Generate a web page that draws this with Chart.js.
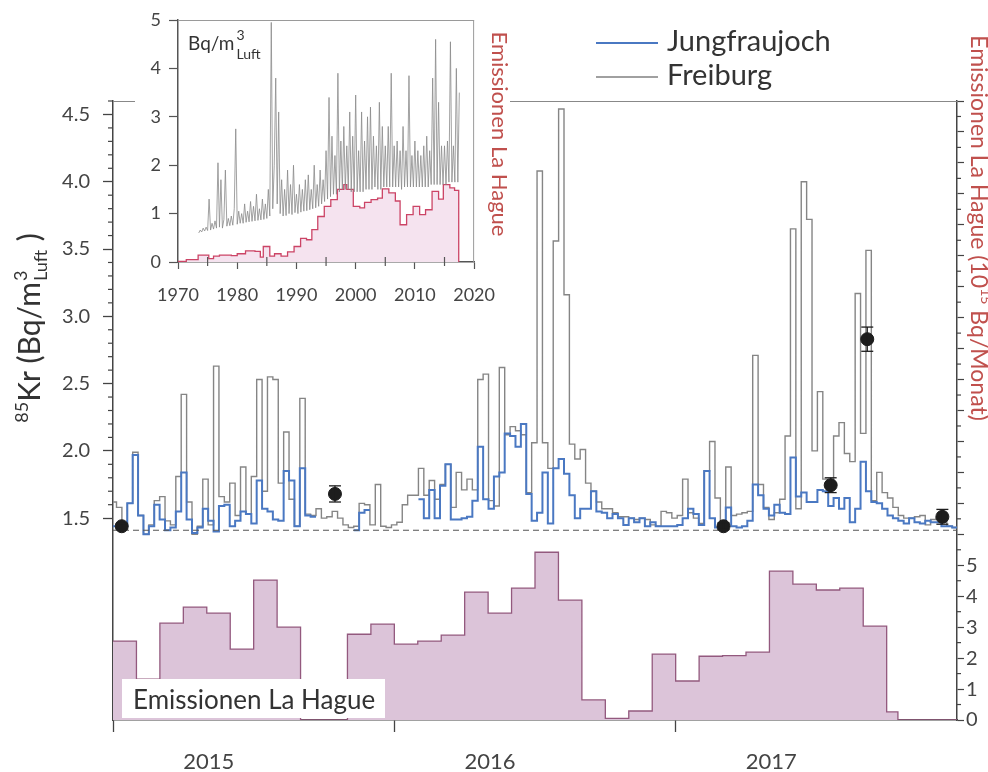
<!DOCTYPE html>
<html lang="de">
<head>
<meta charset="UTF-8">
<title>85Kr Jungfraujoch / Freiburg</title>
<script src="https://cdn.jsdelivr.net/npm/chart.js"></script>
<style>
  body { margin: 0; background: #fff; }
  #wrap { position: relative; width: 988px; height: 772px; overflow: hidden; }
  #mainChart { position: absolute; left: 0; top: 0; }
  #insetChart { position: absolute; left: 135px; top: 0; background: #fff; }
</style>
</head>
<body>
<div id="wrap">
  <canvas id="mainChart" width="988" height="772"></canvas>
  <canvas id="insetChart" width="375" height="305"></canvas>
</div>
<script>
// ---- main panel: weekly 85Kr (Bq/m3 Luft), first week starts just before 1 Jan 2015 ----
const weekOffset = -0.35;
const weeksPerYear = 52.18;

const jungfraujoch = [
  1.44, 1.44, 1.44, 1.61, 1.97, 1.52, 1.38, 1.44, 1.60, 1.49,
  1.41, 1.43, 1.55, 1.84, 1.49, 1.39, 1.43, 1.57, 1.48, 1.40,
  1.59, 1.60, 1.44, 1.48, 1.55, 1.53, 1.46, 1.78, 1.57, 1.55,
  1.49, 1.48, 1.85, 1.78, 1.44, 1.87, 1.52, 1.51, null, null,
  null, null, null, null, null, 1.41, 1.54, 1.56, null, null,
  null, null, null, null, null, null, null, 1.64, 1.50, 1.71,
  1.50, 1.74, 1.90, 1.49, 1.49, 1.50, 1.51, 1.63, 2.03, 1.64,
  1.57, 1.81, 1.84, 2.13, 2.11, 2.03, 2.20, 1.68, 1.48, 1.54,
  1.84, 1.46, 1.87, 1.94, 1.83, 1.67, 1.50, 1.57, 1.57, 1.70,
  1.55, 1.54, 1.50, 1.53, 1.50, 1.45, 1.50, 1.47, 1.50, 1.44,
  1.47, 1.44, 1.44, 1.44, 1.44, 1.45, 1.50, 1.57, 1.53, 1.45,
  1.85, 1.50, 1.43, 1.44, 1.58, 1.44, 1.43, 1.44, 1.48, 1.75,
  1.67, 1.57, 1.52, 1.60, 1.54, 1.53, 1.95, 1.66, 1.69, 1.62,
  1.62, 1.71, 1.70, 1.59, 1.65, 1.57, 1.65, 1.47, 1.57, 1.92,
  1.70, 1.62, 1.61, 1.57, 1.52, 1.50, 1.48, 1.46, 1.50, 1.47,
  1.46, 1.48, 1.47, 1.47, 1.44, 1.44, 1.43
];

const freiburg = [
  1.62, 1.58, 1.44, 1.61, 1.99, 1.52, 1.38, 1.45, 1.63, 1.66,
  1.48, 1.45, 1.81, 2.42, 1.62, 1.38, 1.44, 1.79, 1.45, 2.63,
  1.66, 1.62, 1.76, 1.52, 1.88, 1.53, 1.81, 2.53, 1.70, 2.55,
  2.53, 1.76, 2.14, 1.64, 1.44, 2.39, 1.53, 1.52, 1.57, 1.50,
  1.51, 1.55, 1.50, 1.45, 1.43, 1.44, 1.61, 1.60, 1.45, 1.75,
  1.44, 1.43, 1.45, 1.47, 1.60, 1.67, 1.67, 1.87, 1.67, 1.78,
  1.64, 1.75, 1.90, 1.58, 1.84, 1.71, 1.79, 1.71, 2.53, 2.57,
  1.63, 1.59, 2.62, 2.12, 2.18, 2.15, 2.12, 1.69, 2.06, 4.08,
  2.06, 1.87, 3.56, 4.54, 3.16, 2.05, 1.94, 2.01, 1.76, 1.70,
  1.62, 1.57, 1.57, 1.54, 1.51, 1.51, 1.50, 1.49, 1.50, 1.49,
  1.45, 1.44, 1.55, 1.54, 1.50, 1.52, 1.79, 1.54, 1.50, 1.46,
  1.85, 2.07, 1.65, 1.48, 1.88, 1.52, 1.53, 1.54, 1.55, 2.71,
  1.75, 1.58, 1.49, 1.54, 1.64, 2.11, 3.65, 1.57, 4.00, 3.72,
  2.00, 2.44, 1.79, 1.79, 2.11, 2.21, 1.98, 1.92, 3.17, 2.13,
  3.49, 1.63, 1.84, 1.69, 1.65, 1.58, 1.52, 1.50, 1.50, 1.51,
  1.52, 1.45, 1.49, 1.50, 1.48, 1.44, 1.43
];

// La Hague emissions, 10^15 Bq per month, Jan 2015 onwards (last month only half)
const emissionMonths = [
  2.55, 1.32, 3.13, 3.65, 3.45, 2.29, 4.52, 3.00, 0, 0, 2.77, 3.10,
  2.45, 2.55, 2.74, 4.13, 3.45, 4.26, 5.42, 3.87, 0.65, 0.05, 0.29, 2.13,
  1.26, 2.06, 2.08, 2.19, 4.81, 4.39, 4.20, 4.26, 3.03, 0.26
];
const emissionEnd = 2017.79;

// single samples with error bars
const sampleX = [2015.031, 2015.789, 2017.170, 2017.551, 2017.681, 2017.948];
const sampleY = [1.44, 1.68, 1.44, 1.745, 2.83, 1.51];
const sampleErr = [0.02, 0.06, 0.025, 0.055, 0.09, 0.055];

const baseline = 1.41;

const yearTicks = [2015, 2016, 2017];
const yearLabelPos = [2015.34, 2016.34, 2017.34];
const yearLabels = ['2015', '2016', '2017'];
const krTicks = [1.5, 2.0, 2.5, 3.0, 3.5, 4.0, 4.5];
const emisTickLabels = [0, 1, 2, 3, 4, 5];

// ---- inset: long record 1970-2020 ----
const insetYears = [1970, 1980, 1990, 2000, 2010, 2020];
const insetTicks = [0, 1, 2, 3, 4, 5];
const insetEmisStart = [1970, 1971.4, 1973.4, 1975.2, 1976, 1977, 1979, 1980, 1981.4, 1983, 1983.9,
  1984.4, 1985.5, 1986.3, 1987.4, 1988.5, 1989.6, 1990.7, 1991.7, 1992.6, 1993.6, 1994.7, 1995.8,
  1996.9, 1998, 1998.5, 1999.6, 2000.7, 2001.5, 2002.6, 2003.7, 2004.5, 2005.6, 2006.7, 2007.5,
  2008.6, 2009.7, 2010.8, 2011.8, 2012.9, 2014, 2014.8, 2015.9, 2016.7];
const insetEmis = [0.01, 0.05, 0.14, 0.07, 0.12, 0.14, 0.13, 0.17, 0.23, 0.22, 0.10,
  0.32, 0.12, 0.17, 0.12, 0.21, 0.32, 0.49, 0.46, 0.67, 0.94, 1.15, 1.29,
  1.50, 1.60, 1.50, 1.15, 1.12, 1.23, 1.29, 1.32, 1.51, 1.43, 1.26, 0.77,
  0.98, 1.15, 0.98, 1.08, 1.46, 1.30, 1.60, 1.53, 1.48];
const insetEmisEnd = 2017.4;

const freiburgLongStart = 1973.5;
const freiburgLongStep = 0.25;
const freiburgLong = [
  0.60, 0.66,
  0.62, 0.70, 0.64, 0.72,   0.65, 1.30, 0.66, 0.80,   0.68, 0.85, 0.70, 2.05,
  0.72, 1.70, 0.70, 0.88,   1.90, 0.74, 0.90, 0.75,   0.95, 0.76, 1.10, 2.75,
  0.78, 1.05, 0.80, 1.00,   0.80, 1.20, 0.82, 1.05,   0.83, 1.25, 0.84, 1.15,
  0.85, 1.40, 0.86, 1.10,   0.87, 1.30, 0.88, 1.20,   0.90, 1.50, 0.95, 4.95,
  1.10, 2.00, 3.80, 1.20,   3.10, 1.00, 1.70, 0.95,   1.50, 0.96, 1.90, 1.00,
  1.60, 0.98, 2.00, 1.02,   1.40, 1.00, 1.60, 1.03,   1.50, 1.05, 1.70, 1.06,
  1.80, 1.08, 1.50, 1.10,   2.00, 1.12, 1.60, 1.15,   1.90, 1.20, 1.70, 1.25,
  2.30, 1.30, 3.40, 1.35,   2.60, 1.40, 2.20, 1.40,   3.90, 1.45, 2.50, 1.50,
  2.80, 1.50, 2.40, 1.50,   3.10, 1.45, 2.60, 1.45,   3.45, 1.45, 2.30, 1.45,
  3.10, 1.45, 2.50, 1.50,   3.00, 1.50, 3.20, 1.50,   2.60, 1.55, 2.40, 1.50,
  3.30, 1.50, 2.80, 1.55,   2.40, 1.55, 2.80, 1.55,   3.90, 1.55, 2.40, 1.55,
  2.50, 1.55, 2.30, 1.50,   2.80, 1.55, 2.30, 1.55,   3.85, 1.55, 2.20, 1.55,
  2.50, 1.55, 2.30, 1.55,   2.20, 1.55, 2.40, 1.55,   2.60, 1.55, 2.30, 1.60,
  3.80, 1.60, 4.60, 1.60,   3.30, 1.60, 2.40, 1.60,   2.40, 1.60, 2.50, 1.65,
  4.55, 1.65, 2.40, 1.65,
  4.00, 1.65, 3.50
];

const FONT = 'Lato, "Open Sans", sans-serif';
Chart.defaults.font.family = FONT;
Chart.defaults.color = '#444';

// weekly values -> step points, closing each run before a gap
function stepPoints(values) {
  const pts = [];
  const xAt = i => 2015 + (i + weekOffset) / weeksPerYear;
  values.forEach((v, i) => {
    if (v === null) {
      if (i > 0 && values[i - 1] !== null) pts.push({ x: xAt(i), y: values[i - 1] });
      pts.push({ x: xAt(i), y: null });
    } else {
      pts.push({ x: xAt(i), y: v });
    }
  });
  pts.push({ x: xAt(values.length), y: values[values.length - 1] });
  return pts;
}

const emisPts = emissionMonths.map((v, m) => ({ x: 2015 + m / 12, y: v }));
emisPts.push({ x: emissionEnd, y: 0 }, { x: 2018, y: 0 });

function line(ctx, x1, y1, x2, y2) {
  ctx.beginPath(); ctx.moveTo(x1, y1); ctx.lineTo(x2, y2); ctx.stroke();
}

const errorBars = {
  id: 'errorBars',
  afterDatasetsDraw(chart) {
    const { ctx, scales: { x, y } } = chart;
    ctx.save();
    ctx.strokeStyle = '#1d1d1d';
    ctx.lineWidth = 1.3;
    sampleX.forEach((sx, i) => {
      const px = x.getPixelForValue(sx);
      const top = y.getPixelForValue(sampleY[i] + sampleErr[i]);
      const bot = y.getPixelForValue(sampleY[i] - sampleErr[i]);
      line(ctx, px, top, px, bot);
      line(ctx, px - 6, top, px + 6, top);
      line(ctx, px - 6, bot, px + 6, bot);
    });
    ctx.restore();
  }
};

const mainDecor = {
  id: 'mainDecor',
  afterDraw(chart) {
    const { ctx, chartArea: a, scales: { y, y2 } } = chart;
    ctx.save();

    // top frame line
    ctx.strokeStyle = '#888'; ctx.lineWidth = 1;
    line(ctx, a.left, a.top + 0.5, a.right, a.top + 0.5);

    // minor ticks
    ctx.strokeStyle = '#444'; ctx.lineWidth = 1.2;
    for (let k = 15; k <= 46; k++) {
      if (k % 5 === 0) continue;
      const py = y.getPixelForValue(k / 10);
      line(ctx, a.left - 5, py, a.left, py);
    }
    for (let k = 1; k < 40; k += 2) {
      const py = y2.getPixelForValue(k / 2);
      line(ctx, a.right, py, a.right + 4, py);
    }

    // left axis title: 85Kr (Bq/m3 Luft)
    ctx.save();
    ctx.translate(40, 328);
    ctx.rotate(-Math.PI / 2);
    ctx.fillStyle = '#333';
    ctx.textAlign = 'left';
    ctx.textBaseline = 'alphabetic';
    const big = '30px ' + FONT, small = '18px ' + FONT;
    ctx.font = small;
    const w85 = ctx.measureText('85').width;
    const wScr = Math.max(ctx.measureText('3').width, ctx.measureText('Luft').width);
    ctx.font = big;
    const wMain = ctx.measureText('Kr (Bq/m').width;
    const wEnd = ctx.measureText(' )').width;
    let cx = -(w85 + wMain + wScr + 2 + wEnd) / 2;
    ctx.font = small; ctx.fillText('85', cx, -12); cx += w85;
    ctx.font = big; ctx.fillText('Kr (Bq/m', cx, 0); cx += wMain;
    ctx.font = small; ctx.fillText('3', cx + 1, -13); ctx.fillText('Luft', cx + 1, 7); cx += wScr + 2;
    ctx.font = big; ctx.fillText(' )', cx, 0);
    ctx.restore();

    // right axis title
    ctx.save();
    ctx.translate(971, 228);
    ctx.rotate(Math.PI / 2);
    ctx.fillStyle = '#c0504d';
    ctx.textAlign = 'left';
    const rBig = '23px ' + FONT, rSmall = '14px ' + FONT;
    const p1 = 'Emissionen La Hague (10', p2 = '15', p3 = ' Bq/Monat)';
    ctx.font = rBig; const w1 = ctx.measureText(p1).width, w3 = ctx.measureText(p3).width;
    ctx.font = rSmall; const w2 = ctx.measureText(p2).width;
    let rx = -(w1 + w2 + w3) / 2;
    ctx.font = rBig; ctx.fillText(p1, rx, 0); rx += w1;
    ctx.font = rSmall; ctx.fillText(p2, rx, -10); rx += w2;
    ctx.font = rBig; ctx.fillText(p3, rx, 0);
    ctx.restore();

    // legend
    ctx.lineWidth = 2; ctx.strokeStyle = '#4a78c2';
    line(ctx, 596, 43, 658, 43);
    ctx.lineWidth = 1.5; ctx.strokeStyle = '#808080';
    line(ctx, 596, 77, 658, 77);
    ctx.fillStyle = '#333';
    ctx.font = '29px ' + FONT;
    ctx.textAlign = 'left'; ctx.textBaseline = 'middle';
    ctx.fillText('Jungfraujoch', 667, 42);
    ctx.fillText('Freiburg', 667, 76);

    // emission label box
    ctx.fillStyle = '#fff';
    ctx.fillRect(122, 679, 263, 39);
    ctx.fillStyle = '#333';
    ctx.font = '26px ' + FONT;
    ctx.textBaseline = 'alphabetic';
    ctx.fillText('Emissionen La Hague', 133, 709);

    ctx.restore();
  }
};

new Chart(document.getElementById('mainChart'), {
  type: 'line',
  data: {
    datasets: [
      { label: 'Emissionen La Hague', data: emisPts, yAxisID: 'y2', stepped: true, fill: 'origin',
        backgroundColor: '#dcc4d9', borderColor: '#93597e', borderWidth: 1.3, pointRadius: 0, order: 5 },
      { label: 'Freiburg', data: stepPoints(freiburg), yAxisID: 'y', stepped: true, fill: false,
        borderColor: '#858585', borderWidth: 1.4, pointRadius: 0, order: 4 },
      { label: 'Jungfraujoch', data: stepPoints(jungfraujoch), yAxisID: 'y', stepped: true, fill: false,
        borderColor: '#4a78c2', borderWidth: 2, pointRadius: 0, order: 3 },
      { label: 'Untergrund', data: [{ x: 2015, y: baseline }, { x: 2018, y: baseline }], yAxisID: 'y',
        borderColor: '#555', borderWidth: 1.1, borderDash: [6, 4], pointRadius: 0, fill: false, order: 2 },
      { label: 'Proben', data: sampleX.map((x, i) => ({ x, y: sampleY[i] })), yAxisID: 'y', showLine: false,
        pointRadius: 6.5, pointBackgroundColor: '#1d1d1d', pointBorderColor: '#1d1d1d', order: 1 }
    ]
  },
  options: {
    responsive: false,
    animation: false,
    layout: { padding: { top: 101, left: 0, right: 0, bottom: 0 } },
    plugins: { legend: { display: false }, tooltip: { enabled: false } },
    scales: {
      x: {
        type: 'linear', min: 2015, max: 2018,
        afterBuildTicks: ax => { ax.ticks = yearTicks.concat(yearLabelPos).sort((a, b) => a - b).map(v => ({ value: v })); },
        afterFit: ax => { ax.height = 52; },
        ticks: {
          autoSkip: false, maxRotation: 0, padding: 17, font: { size: 22 }, color: '#444',
          callback: v => { const i = yearLabelPos.indexOf(v); return i >= 0 ? yearLabels[i] : ''; }
        },
        grid: {
          drawOnChartArea: false, tickLength: 12, tickWidth: 1.3,
          tickColor: c => (c.tick && yearTicks.includes(c.tick.value)) ? '#444' : 'rgba(0,0,0,0)'
        },
        border: { color: '#444', width: 1.5 }
      },
      y: {
        position: 'left', min: 0, max: 4.6,
        afterBuildTicks: ax => { ax.ticks = krTicks.map(v => ({ value: v })); },
        afterFit: ax => { ax.width = 113; },
        ticks: { padding: 13, font: { size: 20 }, color: '#444', callback: v => v.toFixed(1) },
        grid: { drawOnChartArea: false, tickLength: 10, tickWidth: 1.3, tickColor: '#444' },
        border: { color: '#444', width: 1.5 }
      },
      y2: {
        position: 'right', min: 0, max: 20,
        afterBuildTicks: ax => { ax.ticks = Array.from({ length: 21 }, (_, i) => ({ value: i })); },
        afterFit: ax => { ax.width = 31; },
        ticks: { padding: 2, font: { size: 20 }, color: '#444',
          callback: v => emisTickLabels.includes(v) ? String(v) : '' },
        grid: { drawOnChartArea: false, tickLength: 7, tickWidth: 1.2, tickColor: '#444' },
        border: { color: '#444', width: 1.5 }
      }
    }
  },
  plugins: [errorBars, mainDecor]
});

// ---- inset ----
const insetEmisPts = insetEmisStart.map((x, i) => ({ x, y: insetEmis[i] }));
insetEmisPts.push({ x: insetEmisEnd, y: 0 });

const insetDecor = {
  id: 'insetDecor',
  afterDraw(chart) {
    const { ctx, chartArea: a, scales: { x } } = chart;
    ctx.save();
    ctx.strokeStyle = '#9a9a9a'; ctx.lineWidth = 1;
    line(ctx, a.left, a.top + 0.5, a.right, a.top + 0.5);
    line(ctx, a.right - 0.5, a.top, a.right - 0.5, a.bottom);
    ctx.strokeStyle = '#555'; ctx.lineWidth = 1.2;
    for (let yr = 1975; yr < 2020; yr += 10) {
      const px = x.getPixelForValue(yr);
      line(ctx, px, a.bottom - 5, px, a.bottom + 4);
    }

    // unit label
    ctx.fillStyle = '#333';
    ctx.textAlign = 'left'; ctx.textBaseline = 'alphabetic';
    ctx.font = '19px ' + FONT;
    ctx.fillText('Bq/m', 53, 50);
    const wb = ctx.measureText('Bq/m').width;
    ctx.font = '14px ' + FONT;
    ctx.fillText('3', 53 + wb + 2, 40);
    ctx.fillText('Luft', 53 + wb + 2, 59);

    // red title
    ctx.translate(357, 134);
    ctx.rotate(Math.PI / 2);
    ctx.fillStyle = '#c0504d';
    ctx.font = '22px ' + FONT;
    ctx.textAlign = 'center';
    ctx.fillText('Emissionen La Hague', 0, 0);
    ctx.restore();
  }
};

new Chart(document.getElementById('insetChart'), {
  type: 'line',
  data: {
    datasets: [
      { label: 'Emissionen', data: insetEmisPts, yAxisID: 'y2', stepped: true, fill: 'origin',
        backgroundColor: '#f5e3ef', borderColor: '#cc4466', borderWidth: 1.3, pointRadius: 0, order: 2 },
      { label: 'Freiburg', data: freiburgLong.map((v, i) => ({ x: freiburgLongStart + i * freiburgLongStep, y: v })),
        yAxisID: 'y', borderColor: '#8a8a8a', borderWidth: 0.8, pointRadius: 0, fill: false, order: 1 }
    ]
  },
  options: {
    responsive: false,
    animation: false,
    layout: { padding: { top: 20, right: 25, left: 0, bottom: 0 } },
    plugins: { legend: { display: false }, tooltip: { enabled: false } },
    scales: {
      x: {
        type: 'linear', min: 1970, max: 2020,
        afterBuildTicks: ax => { ax.ticks = insetYears.map(v => ({ value: v })); },
        afterFit: ax => { ax.height = 43; },
        ticks: { autoSkip: false, maxRotation: 0, padding: 15, font: { size: 18 }, color: '#444', callback: v => String(v) },
        grid: { drawOnChartArea: false, tickLength: 7, tickWidth: 1.2, tickColor: '#555' },
        border: { color: '#555', width: 1.5 }
      },
      y: {
        position: 'left', min: 0, max: 5,
        afterBuildTicks: ax => { ax.ticks = insetTicks.map(v => ({ value: v })); },
        afterFit: ax => { ax.width = 43; },
        ticks: { padding: 8, font: { size: 18 }, color: '#444', callback: v => String(v) },
        grid: { drawOnChartArea: false, tickLength: 9, tickWidth: 1.2, tickColor: '#555' },
        border: { color: '#555', width: 1.5 }
      },
      y2: { display: false, min: 0, max: 5 }
    }
  },
  plugins: [insetDecor]
});
</script>
</body>
</html>
